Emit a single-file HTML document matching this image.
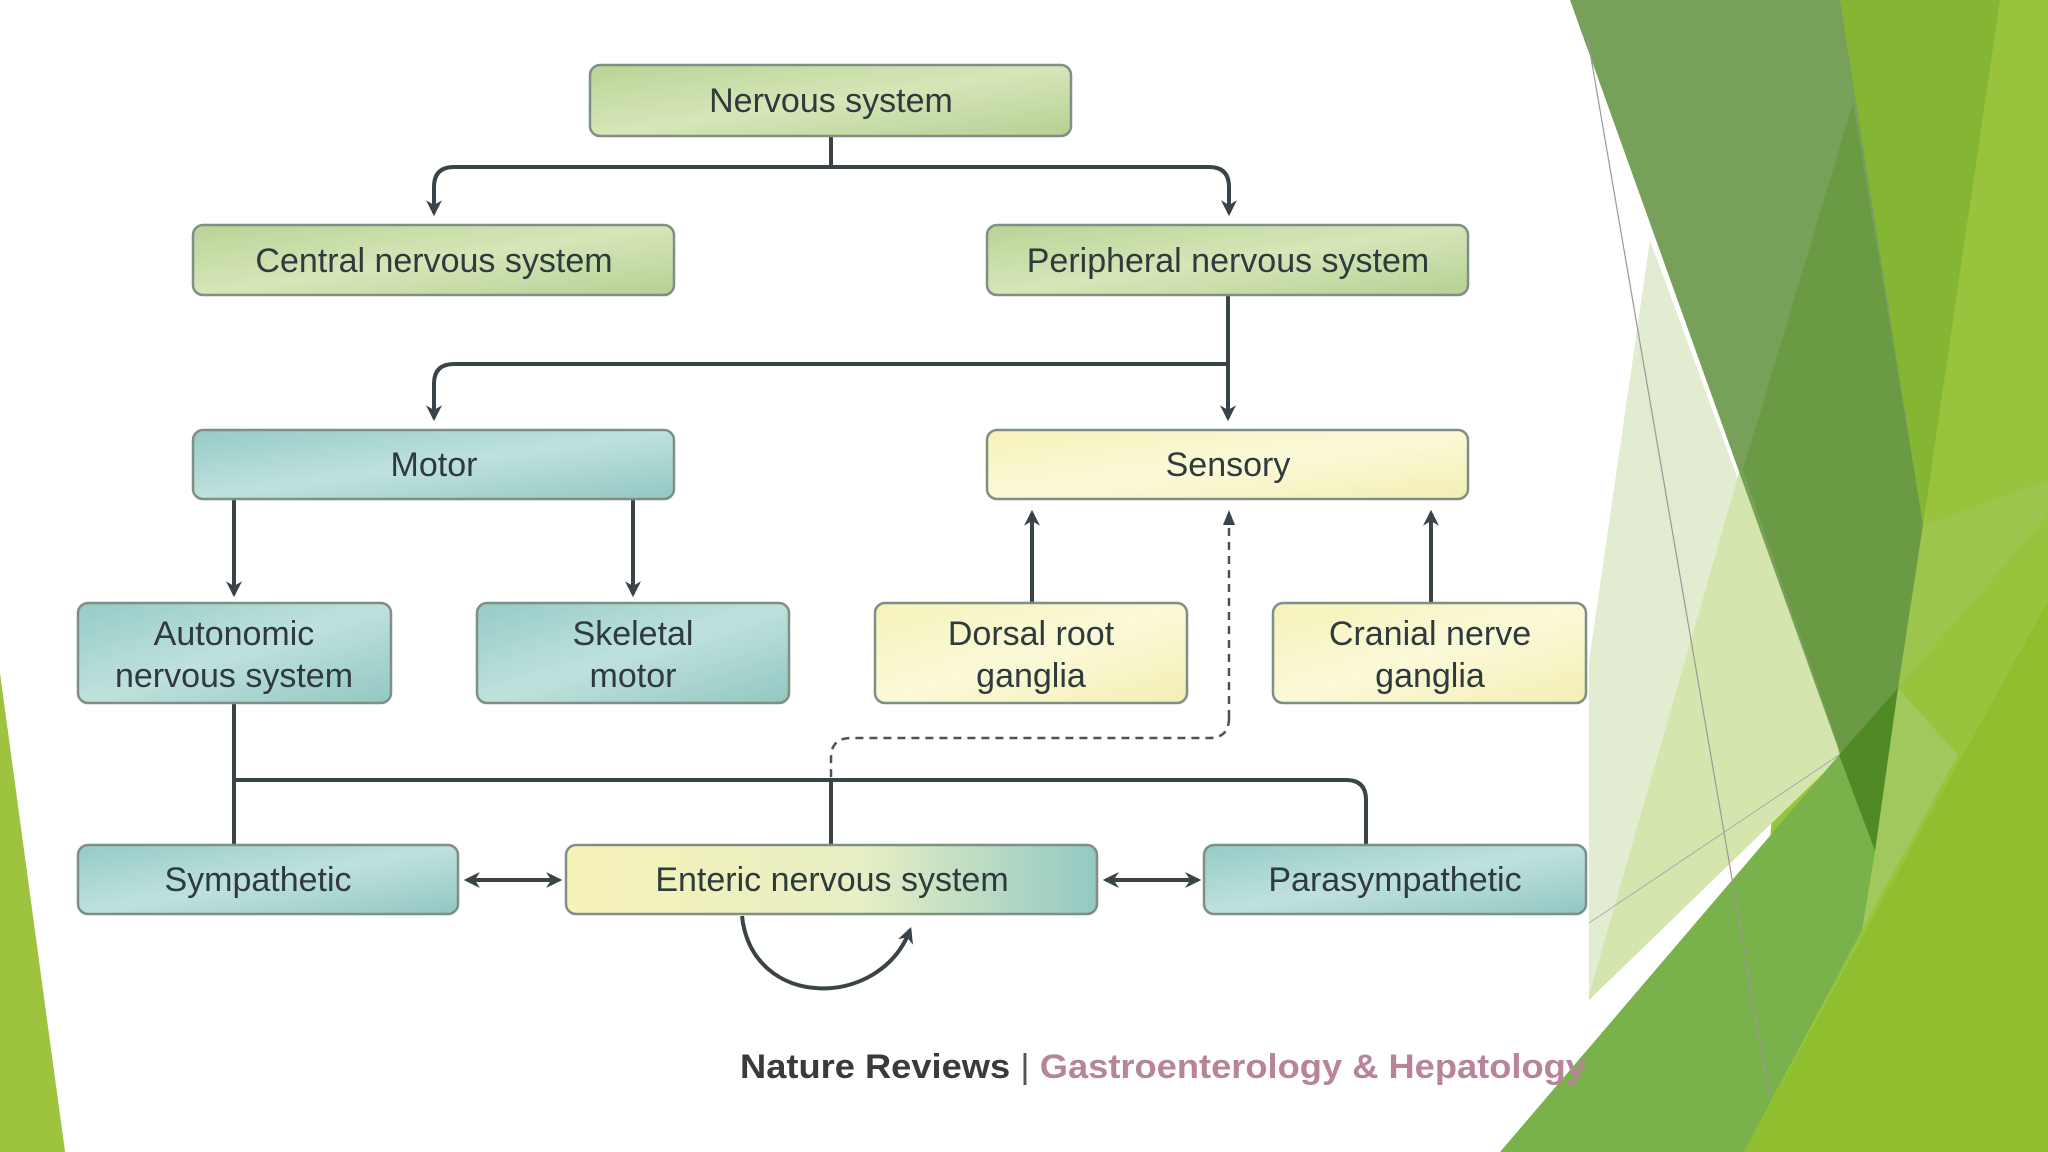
<!DOCTYPE html>
<html><head><meta charset="utf-8"><style>
html,body{margin:0;padding:0;background:#fff}
svg{display:block}
text{font-family:"Liberation Sans",sans-serif;fill:#2e3a3c}
</style></head><body>
<svg width="2048" height="1152" viewBox="0 0 2048 1152" xmlns="http://www.w3.org/2000/svg">
<defs>
<marker id="ah" viewBox="0 0 10 10" refX="8" refY="5" markerWidth="4" markerHeight="4" orient="auto-start-reverse" markerUnits="strokeWidth">
<path d="M0,0 L10,5 L0,10 L3,5 z" fill="#3a4448"/></marker>
<linearGradient id="gG" x1="0" y1="0" x2="1" y2="1"><stop offset="0" stop-color="#b9d396"/><stop offset="0.5" stop-color="#d6e6b8"/><stop offset="1" stop-color="#b6d094"/></linearGradient>
<linearGradient id="gT" x1="0" y1="0" x2="1" y2="1"><stop offset="0" stop-color="#95cbc6"/><stop offset="0.5" stop-color="#bfe1dd"/><stop offset="1" stop-color="#92c7c2"/></linearGradient>
<linearGradient id="gY" x1="0" y1="0" x2="1" y2="1"><stop offset="0" stop-color="#f5f2b8"/><stop offset="0.5" stop-color="#fbf9d8"/><stop offset="1" stop-color="#f3efb4"/></linearGradient>
<linearGradient id="gE" x1="0" y1="0" x2="1" y2="0"><stop offset="0" stop-color="#f6f3b8"/><stop offset="0.55" stop-color="#e8efc4"/><stop offset="1" stop-color="#92c9c3"/></linearGradient>
</defs>
<!-- background greens -->
<polygon points="0,673 65,1152 0,1152" fill="#9dc33f"/>
<polygon points="1840,0 2048,0 2048,1152 1744,1152" fill="#97c43c"/>
<polygon points="1744,1152 2048,601 2048,1152" fill="#8fbf2e"/>
<polygon points="1840,0 2000,0 1923,525" fill="#84b633"/>
<polygon points="1650,240 1840,757 1589,1000 1540,1000" fill="#e2ecd0"/>
<polygon points="1760,400 1840,757 1589,1000 1589,995" fill="#d4e5ae"/>
<!-- white diagram box -->
<rect x="0" y="0" width="1589" height="1088" fill="#fff"/>
<polygon points="0,673 65,1152 0,1152" fill="#9dc33f"/>
<polygon points="1570,0 1840,0 1923,525 1875,851" fill="#77a058"/>
<polygon points="1853,103 1923,525 1875,851 1743,470" fill="#6a9a44"/>
<polygon points="1898,688 1958,755 1862,930 1875,851" fill="#a0c85c"/>
<polygon points="1923,525 2048,480 2048,515 1898,688" fill="#9cc54e"/>
<polygon points="1500,1152 1839,755 1875,851 1862,930 1744,1152" fill="#79b24b"/>
<polygon points="1839,755 1898,688 1875,851" fill="#508a26"/>
<line x1="1588" y1="40" x2="1770" y2="1100" stroke="#999" stroke-width="1.2"/>
<line x1="1589" y1="923" x2="1839" y2="755" stroke="#aaa" stroke-width="1"/>

<!-- connectors -->
<g fill="none" stroke="#3a4448" stroke-width="4">
<path d="M831,136 V167 H454 Q434,167 434,187 V213" marker-end="url(#ah)"/>
<path d="M831,167 H1209 Q1229,167 1229,187 V213" marker-end="url(#ah)"/>
<path d="M1228,295 V418" marker-end="url(#ah)"/>
<path d="M1228,364 H454 Q434,364 434,384 V418" marker-end="url(#ah)"/>
<path d="M234,499 V594" marker-end="url(#ah)"/>
<path d="M633,499 V594" marker-end="url(#ah)"/>
<path d="M1032,603 V513" marker-end="url(#ah)"/>
<path d="M1431,603 V513" marker-end="url(#ah)"/>
<path d="M234,703 V845"/>
<path d="M234,780 H1346 Q1366,780 1366,800 V845"/>
<path d="M831,780 V845"/>
<path d="M467,880 H559" marker-start="url(#ah)" marker-end="url(#ah)"/>
<path d="M1106,880 H1198" marker-start="url(#ah)" marker-end="url(#ah)"/>
<path d="M742,916 C752,1010 880,1010 910,930" marker-end="url(#ah)"/>
</g>
<path d="M1229,718 Q1229,738 1209,738 H851 Q831,738 831,758 V780" fill="none" stroke="#4a5458" stroke-width="2.5" stroke-dasharray="8,6"/>
<path d="M1229,718 V520" fill="none" stroke="#4a5458" stroke-width="2.5" stroke-dasharray="8,6"/>
<path d="M1223,525 L1229,510 L1235,525 z" fill="#3a4448"/>

<!-- boxes -->
<g stroke="#7f8f86" stroke-width="2.5">
<rect x="590" y="65" width="481" height="71" rx="10" fill="url(#gG)"/>
<rect x="193" y="225" width="481" height="70" rx="10" fill="url(#gG)"/>
<rect x="987" y="225" width="481" height="70" rx="10" fill="url(#gG)"/>
<rect x="193" y="430" width="481" height="69" rx="10" fill="url(#gT)"/>
<rect x="987" y="430" width="481" height="69" rx="10" fill="url(#gY)"/>
<rect x="78" y="603" width="313" height="100" rx="10" fill="url(#gT)"/>
<rect x="477" y="603" width="312" height="100" rx="10" fill="url(#gT)"/>
<rect x="875" y="603" width="312" height="100" rx="10" fill="url(#gY)"/>
<rect x="1273" y="603" width="313" height="100" rx="10" fill="url(#gY)"/>
<rect x="78" y="845" width="380" height="69" rx="10" fill="url(#gT)"/>
<rect x="566" y="845" width="531" height="69" rx="10" fill="url(#gE)"/>
<rect x="1204" y="845" width="382" height="69" rx="10" fill="url(#gT)"/>
</g>
<g font-size="34" text-anchor="middle">
<text x="831" y="112">Nervous system</text>
<text x="434" y="272">Central nervous system</text>
<text x="1228" y="272">Peripheral nervous system</text>
<text x="434" y="476">Motor</text>
<text x="1228" y="476">Sensory</text>
<text x="234" y="645">Autonomic</text><text x="234" y="687">nervous system</text>
<text x="633" y="645">Skeletal</text><text x="633" y="687">motor</text>
<text x="1031" y="645">Dorsal root</text><text x="1031" y="687">ganglia</text>
<text x="1430" y="645">Cranial nerve</text><text x="1430" y="687">ganglia</text>
<text x="258" y="891">Sympathetic</text>
<text x="832" y="891">Enteric nervous system</text>
<text x="1395" y="891">Parasympathetic</text>
</g>
<text x="740" y="1078" font-size="34" font-weight="bold" textLength="846" lengthAdjust="spacingAndGlyphs" style="fill:#3a3a3a">Nature Reviews <tspan style="fill:#555;font-weight:normal">|</tspan> <tspan style="fill:#b7849a">Gastroenterology &amp; Hepatology</tspan></text>
</svg>
</body></html>
